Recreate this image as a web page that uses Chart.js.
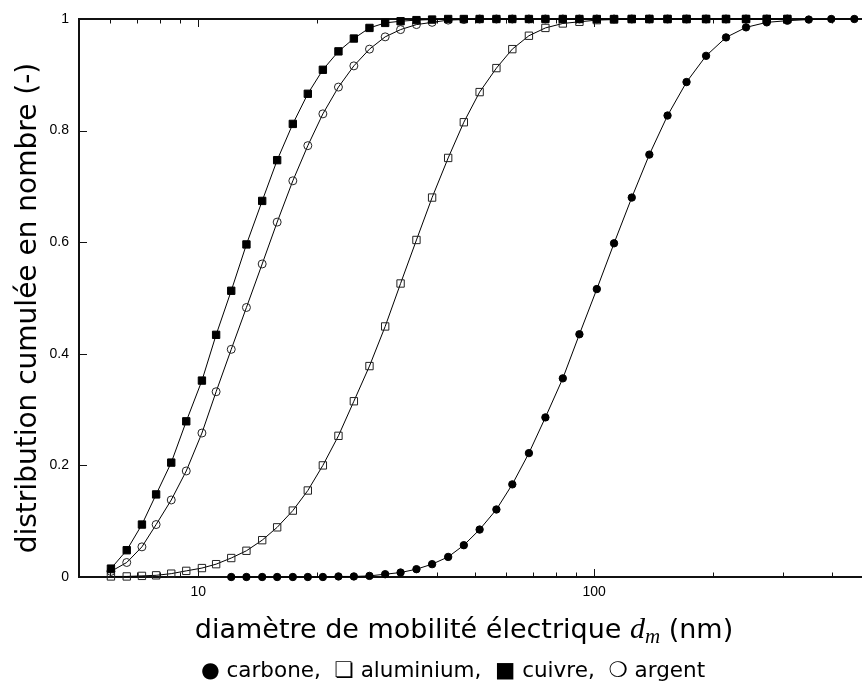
<!DOCTYPE html>
<html lang="fr">
<head>
<meta charset="utf-8">
<title>Distribution cumulée en nombre</title>
<script src="https://cdn.jsdelivr.net/npm/chart.js@4.4.1/dist/chart.umd.min.js"></script>
<style>
  html, body { margin: 0; padding: 0; background: #fff; }
  #wrap { position: relative; width: 862px; height: 686px; }
</style>
</head>
<body>
<div id="wrap"><canvas id="cdf"></canvas></div>
<script>
// grille des diamètres (nm), commune aux quatre matériaux
const diam = [6.02, 6.60, 7.21, 7.83, 8.55, 9.33, 10.22, 11.10, 12.12, 13.24,
  14.51, 15.83, 17.34, 18.92, 20.65, 22.61, 24.73, 27.08, 29.67, 32.45,
  35.59, 38.98, 42.80, 46.88, 51.39, 56.66, 62.15, 68.45, 75.34, 83.37,
  91.82, 101.6, 112.3, 124.5, 137.9, 153.3, 171.2, 191.8, 215.4, 242.0,
  273.0, 307.7, 348.5, 397.3, 454.3];

// distributions cumulées (null = pas de mesure à ce diamètre)
const carbone = [null, null, null, null, null, null, null, null,
  0, 0, 0, 0, 0, 0, 0, 0.001, 0.001, 0.002, 0.005, 0.008,
  0.014, 0.023, 0.036, 0.057, 0.085, 0.121, 0.166, 0.222, 0.286, 0.356,
  0.435, 0.516, 0.598, 0.680, 0.757, 0.827, 0.887, 0.934, 0.967, 0.985,
  0.994, 0.997, 0.999, 1, 1];
const aluminium = [0.001, 0.001, 0.002, 0.003, 0.006, 0.011, 0.016, 0.023, 0.034, 0.047,
  0.066, 0.089, 0.119, 0.155, 0.200, 0.253, 0.315, 0.378, 0.449, 0.526,
  0.604, 0.680, 0.751, 0.815, 0.869, 0.912, 0.946, 0.970, 0.984, 0.992,
  0.995, 0.998, 0.999, 1, 1, 1, 1, 1, 1, 1,
  1, 1, null, null, null];
const cuivre = [0.015, 0.048, 0.094, 0.148, 0.205, 0.279, 0.352, 0.434, 0.513, 0.596,
  0.674, 0.747, 0.812, 0.866, 0.909, 0.942, 0.965, 0.984, 0.993, 0.996,
  0.998, 0.999, 1, 1, 1, 1, 1, 1, 1, 1,
  1, 1, 1, 1, 1, 1, 1, 1, 1, 1,
  1, 1, null, null, null];
const argent = [0.010, 0.026, 0.054, 0.094, 0.138, 0.190, 0.258, 0.332, 0.408, 0.483,
  0.561, 0.636, 0.710, 0.773, 0.830, 0.878, 0.916, 0.946, 0.968, 0.981,
  0.990, 0.994, 0.998, 0.999, 1, 1, 1, 1, 1, 1,
  1, 1, 1, 1, 1, 1, 1, 1, 1, 1,
  1, 1, null, null, null];

// graduations
const xTicks = [6, 7, 8, 9, 10, 20, 30, 40, 50, 60, 70, 80, 90, 100, 200, 300, 400];
const xLabels = [10, 100];
const yTicks = [0, 0.2, 0.4, 0.6, 0.8, 1];

const sansTitre = '"DejaVu Sans", sans-serif';
const serifMath = '"Liberation Serif", "DejaVu Serif", serif';

function serie(label, vals, style, plein, r) {
  return {
    label: label,
    data: diam.map((d, i) => ({ x: d, y: vals[i] })).filter(p => p.y !== null),
    borderColor: '#000',
    borderWidth: 1,
    tension: 0,
    fill: false,
    clip: false,
    pointStyle: style,
    pointRadius: r,
    pointHoverRadius: r,
    pointBorderWidth: 1,
    pointBorderColor: plein ? '#000' : '#222',
    pointBackgroundColor: plein ? '#000' : 'rgba(0,0,0,0)'
  };
}

// cadre : bord haut + graduations tournées vers l'intérieur
const cadre = {
  id: 'cadre',
  beforeDatasetsDraw(chart) {
    const { ctx, chartArea: a, scales: { x, y } } = chart;
    ctx.save();
    ctx.strokeStyle = '#111';
    ctx.lineWidth = 2;
    ctx.beginPath();
    ctx.moveTo(a.left - 1, a.top);
    ctx.lineTo(a.right, a.top);
    ctx.stroke();
    ctx.lineWidth = 1;
    ctx.beginPath();
    xTicks.forEach(v => {
      const px = Math.round(x.getPixelForValue(v)) + 0.5;
      const len = xLabels.includes(v) ? 8 : 4.5;
      ctx.moveTo(px, a.bottom);
      ctx.lineTo(px, a.bottom - len);
      ctx.moveTo(px, a.top);
      ctx.lineTo(px, a.top + len);
    });
    yTicks.forEach(v => {
      const py = Math.round(y.getPixelForValue(v)) + 0.5;
      ctx.moveTo(a.left, py);
      ctx.lineTo(a.left + 8, py);
    });
    ctx.stroke();
    ctx.restore();
  },
  afterDraw(chart) {
    const { ctx } = chart;
    ctx.save();
    ctx.fillStyle = '#000';
    ctx.textBaseline = 'alphabetic';

    // titre de l'axe des ordonnées
    ctx.save();
    ctx.translate(36, 308);
    ctx.rotate(-Math.PI / 2);
    ctx.font = '28px ' + sansTitre;
    ctx.textAlign = 'center';
    ctx.fillText('distribution cumulée en nombre (-)', 0, 0);
    ctx.restore();

    // titre de l'axe des abscisses, avec d_m en italique
    const morceaux = [
      { t: 'diamètre de mobilité électrique ', f: '27px ' + sansTitre, dy: 0 },
      { t: 'd', f: 'italic 30px ' + serifMath, dy: 0 },
      { t: 'm', f: 'italic 21px ' + serifMath, dy: 5 },
      { t: ' (nm)', f: '27px ' + sansTitre, dy: 0 }
    ];
    let total = 0;
    morceaux.forEach(m => { ctx.font = m.f; m.w = ctx.measureText(m.t).width; total += m.w; });
    let cx = 464 - total / 2;
    ctx.textAlign = 'left';
    morceaux.forEach(m => {
      ctx.font = m.f;
      ctx.fillText(m.t, cx, 638 + m.dy);
      cx += m.w;
    });

    // légende
    ctx.font = '21.5px ' + sansTitre;
    ctx.textAlign = 'center';
    ctx.fillText('● carbone,  ❏ aluminium,  ■ cuivre,  ❍ argent', 453, 677);
    ctx.restore();
  }
};

new Chart(document.getElementById('cdf'), {
  type: 'line',
  data: {
    datasets: [
      serie('cuivre', cuivre, 'rect', true, 5.2),
      serie('carbone', carbone, 'circle', true, 3.7),
      serie('argent', argent, 'circle', false, 4),
      serie('aluminium', aluminium, 'rect', false, 5.2)
    ]
  },
  options: {
    responsive: true,
    maintainAspectRatio: false,
    animation: false,
    layout: { autoPadding: false, padding: { top: 19, right: 0, left: 0, bottom: 0 } },
    plugins: {
      legend: { display: false },
      tooltip: { enabled: false }
    },
    scales: {
      x: {
        type: 'logarithmic',
        min: 5,
        max: 475,
        grid: { display: false, drawTicks: false },
        border: { display: true, color: '#111', width: 2 },
        afterBuildTicks: s => { s.ticks = xTicks.map(v => ({ value: v })); },
        afterFit: s => { s.height = 109; },
        ticks: {
          autoSkip: false,
          maxRotation: 0,
          padding: 7,
          color: '#000',
          font: { family: '"Liberation Sans", Arial, sans-serif', size: 14 },
          callback: v => xLabels.includes(v) ? String(v) : ''
        }
      },
      y: {
        type: 'linear',
        min: 0,
        max: 1,
        grid: { display: false, drawTicks: false },
        border: { display: true, color: '#111', width: 2 },
        afterBuildTicks: s => { s.ticks = yTicks.map(v => ({ value: v })); },
        afterFit: s => { s.width = 79; },
        ticks: {
          padding: 10,
          color: '#000',
          font: { family: '"Liberation Sans", Arial, sans-serif', size: 14 },
          callback: v => String(v)
        }
      }
    }
  },
  plugins: [cadre]
});
</script>
</body>
</html>
